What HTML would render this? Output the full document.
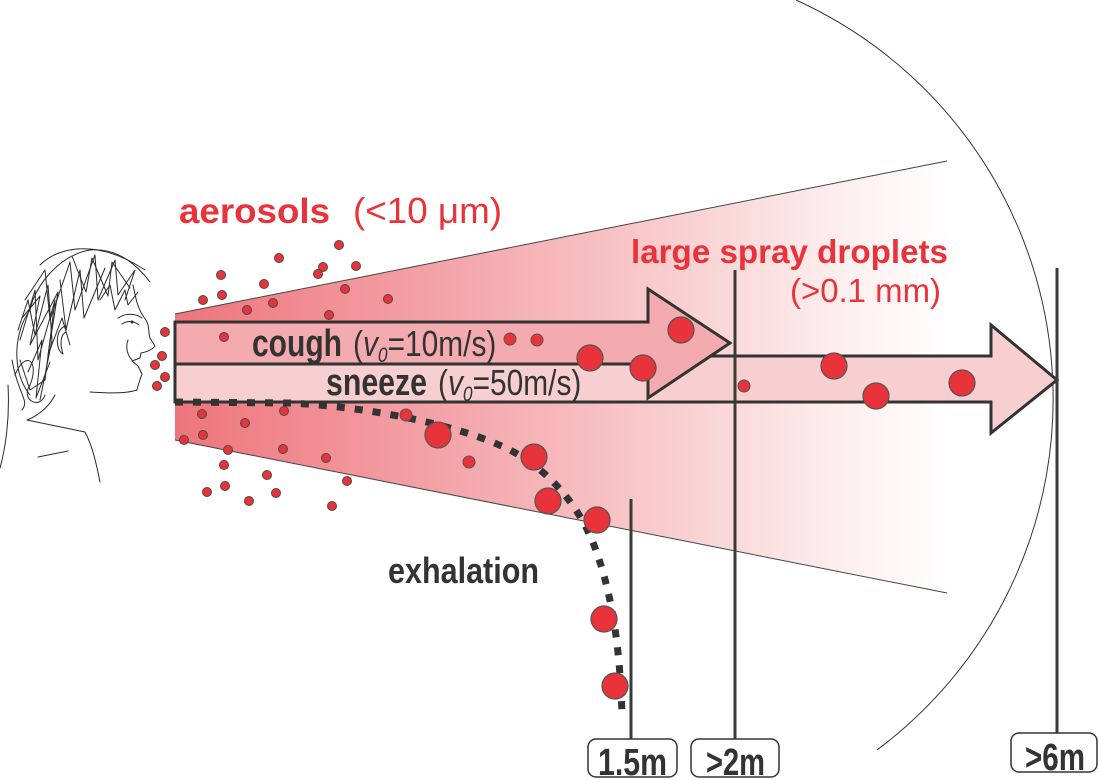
<!DOCTYPE html>
<html>
<head>
<meta charset="utf-8">
<style>
  html,body{margin:0;padding:0;background:#fff;}
  svg{display:block;}
  text{font-family:"Liberation Sans", Arial, sans-serif;}
</style>
</head>
<body>
<svg width="1099" height="780" viewBox="0 0 1099 780" xmlns="http://www.w3.org/2000/svg">
  <defs>
    <linearGradient id="cone" gradientUnits="userSpaceOnUse" x1="175" y1="0" x2="950" y2="0">
      <stop offset="0" stop-color="#ee757c"/>
      <stop offset="0.5" stop-color="#f6b9bc"/>
      <stop offset="0.85" stop-color="#fdeded"/>
      <stop offset="1" stop-color="#ffffff"/>
    </linearGradient>
  </defs>

  <!-- cone -->
  <polygon points="175,314 947,161 947,593 175,440" fill="url(#cone)"/>
  <line x1="175" y1="314" x2="947" y2="161" stroke="#444" stroke-width="1"/>
  <line x1="175" y1="440" x2="947" y2="593" stroke="#444" stroke-width="1"/>

  <!-- big arc -->
  <path d="M 796 0 A 438 438 0 0 1 877 750" fill="none" stroke="#333" stroke-width="1"/>

  <!-- sneeze arrow -->
  <polygon points="175,356 991,356 991,325 1057,380 991,433 991,402 175,402" fill="#f8cfd0" stroke="#333" stroke-width="3" stroke-linejoin="miter"/>
  <!-- cough arrow -->
  <polygon points="175,322 648,322 648,289 730,343 648,398 648,364 175,364" fill="#f4abb0" stroke="#333" stroke-width="3" stroke-linejoin="miter"/>

  <!-- vertical distance lines -->
  <line x1="631" y1="499" x2="631" y2="739" stroke="#3a3a3a" stroke-width="3"/>
  <line x1="735" y1="270" x2="735" y2="739" stroke="#3a3a3a" stroke-width="3"/>
  <line x1="1057" y1="268" x2="1057" y2="733" stroke="#3a3a3a" stroke-width="3"/>

  <!-- exhalation dotted curve -->
  <path d="M175,402 L290,403 C370,407 460,425 510,450 C545,468 575,500 592,540 C610,585 620,640 622,716" fill="none" stroke="#333" stroke-width="7" stroke-dasharray="8 10"/>

  <!-- small aerosol dots -->
  <g fill="#e8333a" stroke="#4a4a4a" stroke-width="1">
    <circle cx="339" cy="245" r="4.5"/>
    <circle cx="279" cy="258" r="4.5"/>
    <circle cx="323" cy="267" r="4.5"/>
    <circle cx="318" cy="274" r="4.5"/>
    <circle cx="356" cy="266" r="4.5"/>
    <circle cx="221" cy="275" r="4.5"/>
    <circle cx="264" cy="284" r="4.5"/>
    <circle cx="203" cy="300" r="4.5"/>
    <circle cx="222" cy="295" r="4.5"/>
    <circle cx="247" cy="310" r="4.5"/>
    <circle cx="273" cy="303" r="4.5"/>
    <circle cx="345" cy="289" r="4.5"/>
    <circle cx="388" cy="299" r="4.5"/>
    <circle cx="329" cy="315" r="4.5"/>
    <circle cx="165" cy="332" r="4.5"/>
    <circle cx="162" cy="356" r="4.5"/>
    <circle cx="155" cy="365" r="4.5"/>
    <circle cx="165" cy="377" r="4.5"/>
    <circle cx="157" cy="386" r="4.5"/>
    <circle cx="224" cy="337" r="4.5"/>
    <circle cx="202" cy="414" r="4.5"/>
    <circle cx="284" cy="411" r="4.5"/>
    <circle cx="245" cy="423" r="4.5"/>
    <circle cx="203" cy="435" r="4.5"/>
    <circle cx="184" cy="440" r="4.5"/>
    <circle cx="228" cy="450" r="4.5"/>
    <circle cx="283" cy="449" r="4.5"/>
    <circle cx="326" cy="458" r="4.5"/>
    <circle cx="224" cy="465" r="4.5"/>
    <circle cx="267" cy="475" r="4.5"/>
    <circle cx="347" cy="481" r="4.5"/>
    <circle cx="225" cy="486" r="4.5"/>
    <circle cx="207" cy="492" r="4.5"/>
    <circle cx="276" cy="493" r="4.5"/>
    <circle cx="249" cy="501" r="4.5"/>
    <circle cx="332" cy="506" r="4.5"/>
  </g>

  <!-- medium dots -->
  <g fill="#e8333a" stroke="#555" stroke-width="1">
    <circle cx="510" cy="339" r="6"/>
    <circle cx="537" cy="340" r="6"/>
    <circle cx="744" cy="386" r="6"/>
    <circle cx="469" cy="462" r="6"/>
    <circle cx="406" cy="415" r="6"/>
  </g>

  <!-- large droplets -->
  <g fill="#e8333a" stroke="#555" stroke-width="1.2">
    <circle cx="681" cy="330" r="13"/>
    <circle cx="590" cy="358" r="13"/>
    <circle cx="643" cy="368" r="13"/>
    <circle cx="834" cy="366" r="13"/>
    <circle cx="876" cy="396" r="13"/>
    <circle cx="962" cy="383" r="13"/>
    <circle cx="438" cy="435" r="13"/>
    <circle cx="534" cy="457" r="13"/>
    <circle cx="548" cy="501" r="13"/>
    <circle cx="597" cy="520" r="13"/>
    <circle cx="604" cy="619" r="13"/>
    <circle cx="615" cy="686" r="13"/>
  </g>

  <!-- head sketch -->
  <g fill="none" stroke="#2a2a2a" stroke-width="1" stroke-linecap="round" stroke-linejoin="round">
    <path d="M 30,395 C 10,370 15,330 30,310 C 35,285 60,255 90,250 C 115,248 135,262 150,282"/>
    <path d="M 25,300 L 45,270 L 50,320 L 70,262 L 75,310 L 95,255 L 98,300 L 115,260 L 118,295 L 135,270 L 125,300"/>
    <path d="M 20,340 L 35,290 L 38,360 L 55,300 L 45,380 L 30,390 L 20,360"/>
    <path d="M 15,375 C 25,350 40,360 30,385 C 20,400 40,410 45,395"/>
    <path d="M 100,300 L 110,285 L 115,310 L 125,290 L 128,305 L 138,292"/>
    <path d="M 40,265 C 60,245 100,240 145,270"/>
    <path d="M 18,330 L 28,300 L 35,335 L 48,285 L 52,340 L 40,400"/>
    <path d="M 60,280 L 66,330 L 80,270 L 84,318 L 105,268"/>
    <path d="M 12,360 C 18,395 30,400 22,410"/>
    <path d="M 22,318 L 40,296 L 30,345 L 58,292 L 48,355 L 62,318 L 70,345"/>
    <path d="M 72,256 L 86,292 L 92,258 L 108,296 L 112,262 L 130,288"/>
    <path d="M 28,372 L 42,340 L 36,398 L 50,362"/>
    <path d="M 133,285 C 136,300 138,310 146,320 C 150,327 148,332 150,338 L 155,346 C 152,350 146,352 141,353 L 140,358 L 132,361 L 138,366 L 142,374 C 140,380 138,385 137,390 C 125,394 105,393 90,392"/>
    <path d="M 118,318 C 126,313 135,313 142,318"/>
    <path d="M 122,324 C 128,320 134,321 139,325"/>
    <circle cx="132" cy="322" r="1" fill="#2a2a2a"/>
    <path d="M 128,340 C 125,348 128,356 132,360"/>
    <path d="M 55,395 C 50,405 40,415 27,420 L 85,432 C 92,445 96,462 100,482"/>
    <path d="M 38,457 L 68,451"/>
    <path d="M 8,385 C 10,420 5,450 0,468"/>
    <path d="M 66,326 C 55,328 55,350 63,354 C 60,345 60,335 66,332"/>
  </g>

  <!-- red labels -->
  <text x="179" y="223" font-size="35" font-weight="bold" fill="#e8333a" textLength="151" lengthAdjust="spacingAndGlyphs">aerosols</text>
  <text x="353" y="223" font-size="36" fill="#e8333a" textLength="149" lengthAdjust="spacingAndGlyphs">(&lt;10 μm)</text>
  <text x="631" y="263" font-size="33" font-weight="bold" fill="#e8333a" textLength="317" lengthAdjust="spacingAndGlyphs">large spray droplets</text>
  <text x="790" y="302" font-size="33" fill="#e8333a" textLength="151" lengthAdjust="spacingAndGlyphs">(&gt;0.1 mm)</text>

  <!-- dark labels -->
  <text x="252" y="356" font-size="38" font-weight="bold" fill="#333" textLength="90" lengthAdjust="spacingAndGlyphs">cough</text>
  <g transform="translate(353,356) scale(0.83,1)">
    <text x="0" y="0" font-size="36" fill="#333">(<tspan font-style="italic">v</tspan><tspan font-style="italic" font-size="21" dy="6">0</tspan><tspan dy="-6">=10m/s)</tspan></text>
  </g>
  <text x="326" y="395" font-size="38" font-weight="bold" fill="#333" textLength="101" lengthAdjust="spacingAndGlyphs">sneeze</text>
  <g transform="translate(438,395) scale(0.83,1)">
    <text x="0" y="0" font-size="36" fill="#333">(<tspan font-style="italic">v</tspan><tspan font-style="italic" font-size="21" dy="6">0</tspan><tspan dy="-6">=50m/s)</tspan></text>
  </g>
  <text x="388" y="583" font-size="36" font-weight="bold" fill="#333" textLength="151" lengthAdjust="spacingAndGlyphs">exhalation</text>

  <!-- distance boxes -->
  <rect x="588" y="739" width="89" height="38" rx="8" ry="8" fill="#fff" stroke="#333" stroke-width="1.5"/>
  <rect x="691" y="739" width="88" height="38" rx="8" ry="8" fill="#fff" stroke="#333" stroke-width="1.5"/>
  <rect x="1011" y="733" width="86" height="39" rx="8" ry="8" fill="#fff" stroke="#333" stroke-width="1.5"/>
  <text x="598" y="775" font-size="38" font-weight="bold" fill="#333" textLength="69" lengthAdjust="spacingAndGlyphs">1.5m</text>
  <text x="706" y="775" font-size="38" font-weight="bold" fill="#333" textLength="59" lengthAdjust="spacingAndGlyphs">&gt;2m</text>
  <text x="1025" y="770" font-size="38" font-weight="bold" fill="#333" textLength="60" lengthAdjust="spacingAndGlyphs">&gt;6m</text>
</svg>
</body>
</html>
